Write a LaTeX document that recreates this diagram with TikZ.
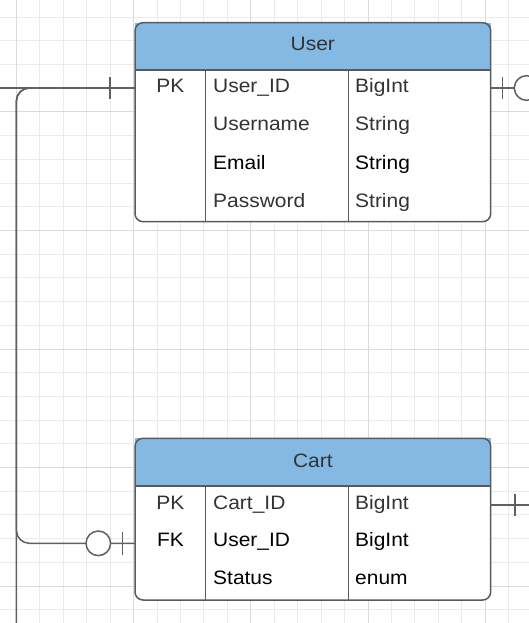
\documentclass[tikz,border=0pt]{standalone}
\usepackage{fontspec}
\setmainfont{Liberation Sans}[FakeStretch=1.08]
\definecolor{hdr}{HTML}{83B9E3}
\definecolor{gmin}{HTML}{EBEBEB}
\definecolor{gmaj}{HTML}{DADADA}
\definecolor{bord}{HTML}{5A5A5A}
\definecolor{txtg}{HTML}{333333}
\definecolor{conn}{HTML}{606060}
\tikzset{
  cell/.style={font=\fontsize{19.4}{22}\selectfont, text=txtg, inner sep=0pt, anchor=base west},
  keycell/.style={cell, anchor=base},
  dark/.style={text=black},
  hdrtext/.style={font=\fontsize{19.4}{22}\selectfont, text=txtg, inner sep=0pt, anchor=base},
  tableline/.style={draw=bord, line width=1.5pt},
  connline/.style={draw=conn, line width=1.5pt},
  onebar/.style={draw=conn, line width=1.5pt},
  zerocirc/.style={draw=conn, line width=1.5pt, fill=white},
}
\begin{document}
\begin{tikzpicture}[x=1pt,y=-1pt]
\useasboundingbox (0,0) rectangle (529,623);
\clip (0,0) rectangle (529,623);
\fill[white] (0,0) rectangle (529,623);
% grid
\foreach \k in {0,...,22} {
  \pgfmathsetmacro\xx{16.4+23.44*\k}
  \draw[gmin, line width=1pt] (\xx,0) -- (\xx,623);
}
\foreach \k in {-14,...,11} {
  \pgfmathsetmacro\yy{349+23.7*\k}
  \draw[gmin, line width=1pt] (0,\yy) -- (529,\yy);
}
\foreach \k in {0,...,4} {
  \pgfmathsetmacro\xx{16.4+117.2*\k}
  \draw[gmaj, line width=1pt] (\xx,0) -- (\xx,623);
}
\foreach \k in {-2,...,2} {
  \pgfmathsetmacro\yy{349+118.5*\k}
  \draw[gmaj, line width=1pt] (0,\yy) -- (529,\yy);
}

% ---------- coordinates ----------
\coordinate (uL) at (135,88);
\coordinate (uR) at (490.7,88);
\coordinate (cL) at (135,543.3);
\coordinate (cR) at (490.7,505);
\coordinate (edgeL) at (0,88);
\coordinate (edgeR1) at (529,88);
\coordinate (edgeR2) at (529,505);
\coordinate (bend1) at (16.4,88);
\coordinate (bend2) at (16.4,543.3);
\coordinate (downEnd) at (16.4,623);

% ---------- connectors ----------
\draw[connline] (edgeL) -- (uL);
\draw[connline, rounded corners=13pt] (uL) -- (bend1) -- (bend2) -- (cL);
\draw[connline, rounded corners=13pt] (uL) -- (bend1) -- (downEnd);
\draw[onebar] (110.2,77) -- (110.2,99.5);
\draw[onebar] (122.3,532) -- (122.3,554.5);
\node[zerocirc, circle, minimum size=24.6pt, inner sep=0pt] (z1) at (98.3,543.3) {};
\draw[connline] (uR) -- (edgeR1);
\draw[onebar] (502.7,77) -- (502.7,99.5);
\node[zerocirc, circle, minimum size=24.6pt, inner sep=0pt] (z2) at (526.6,88) {};
\draw[connline] (cR) -- (edgeR2);
\draw[onebar] (515,494) -- (515,516);

% ---------- User table ----------
\fill[hdr] (135,22.7) rectangle (490.7,70);
\fill[white, rounded corners=8pt] (135,70) -- (135,221.7) -- (490.7,221.7) -- (490.7,70) -- cycle;
\draw[tableline, rounded corners=8pt] (135,22.7) rectangle (490.7,221.7);
\draw[tableline] (135,70) -- (490.7,70);
\draw[tableline] (205.7,70) -- (205.7,221.7);
\draw[tableline] (348.3,70) -- (348.3,221.7);
\node[hdrtext] (userT) at (312.8,51) {User};
\node[keycell] (uk1) at (170.4,92.7) {PK};
\node[cell] (un1) at (213,92.7) {User\_ID};
\node[cell] (ut1) at (355,92.7) {BigInt};
\node[cell] (un2) at (213,131) {Username};
\node[cell] (ut2) at (355,131) {String};
\node[cell, dark] (un3) at (213,169.1) {Email};
\node[cell, dark] (ut3) at (355,169.1) {String};
\node[cell] (un4) at (213,207.2) {Password};
\node[cell] (ut4) at (355,207.2) {String};

% ---------- Cart table ----------
\fill[hdr] (135,438.3) rectangle (490.7,486);
\fill[white, rounded corners=8pt] (135,486) -- (135,600) -- (490.7,600) -- (490.7,486) -- cycle;
\draw[tableline, rounded corners=8pt] (135,438.3) rectangle (490.7,600);
\draw[tableline] (135,486) -- (490.7,486);
\draw[tableline] (205.7,486) -- (205.7,600);
\draw[tableline] (348.3,486) -- (348.3,600);
\node[hdrtext] (cartT) at (312.8,467.3) {Cart};
\node[keycell] (ck1) at (170.4,509.3) {PK};
\node[cell] (cn1) at (213,509.3) {Cart\_ID};
\node[cell] (ct1) at (355,509.3) {BigInt};
\node[keycell, dark] (ck2) at (170.4,546.8) {FK};
\node[cell, dark] (cn2) at (213,546.8) {User\_ID};
\node[cell, dark] (ct2) at (355,546.8) {BigInt};
\node[cell, dark] (cn3) at (213,584.3) {Status};
\node[cell, dark] (ct3) at (355,584.3) {enum};
\end{tikzpicture}
\end{document}
